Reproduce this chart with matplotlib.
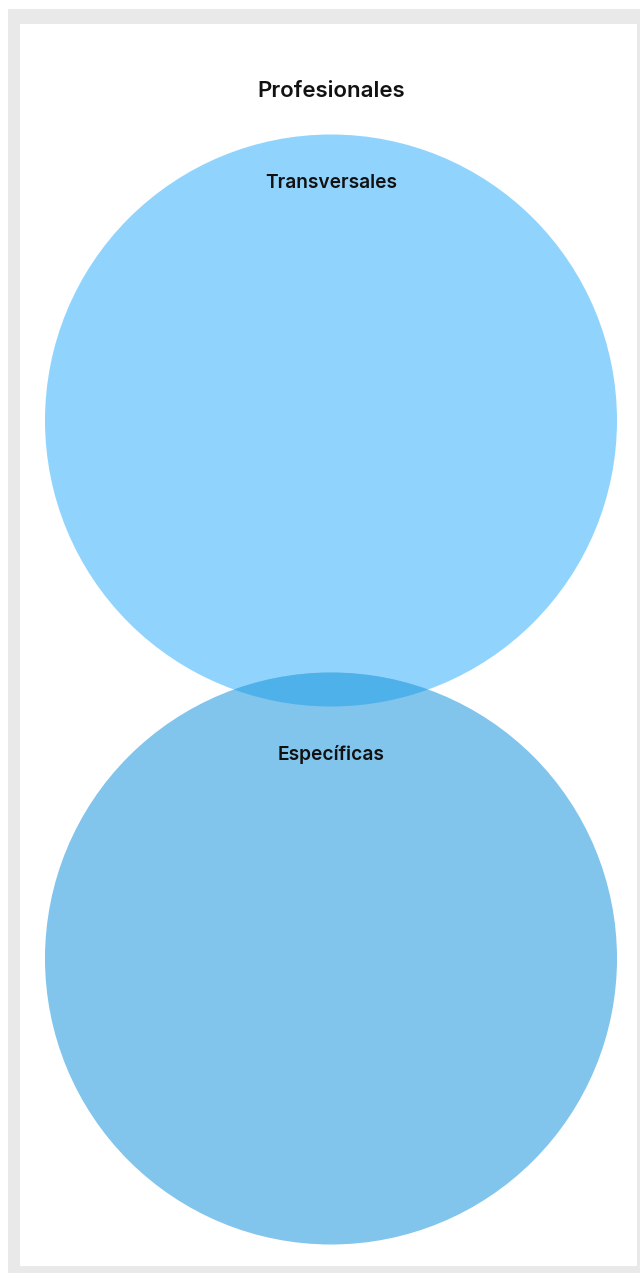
import numpy as np
import matplotlib.pyplot as plt
from matplotlib.patches import Circle, Rectangle

# venn data
title = "Profesionales"
set_names = ["Transversales", "Específicas"]
set_sizes = [58, 58]
overlap_size = 1
set_colors = ["#90d4fe", "#81c4ec"]
overlap_color = "#4fb1ea"


def lens_area(r1, r2, d):
    if d >= r1 + r2:
        return 0.0
    a1 = r1 ** 2 * np.arccos((d ** 2 + r1 ** 2 - r2 ** 2) / (2 * d * r1))
    a2 = r2 ** 2 * np.arccos((d ** 2 + r2 ** 2 - r1 ** 2) / (2 * d * r2))
    k = 0.5 * np.sqrt((-d + r1 + r2) * (d + r1 - r2) * (d - r1 + r2) * (d + r1 + r2))
    return a1 + a2 - k


def find_distance(r1, r2, target):
    lo, hi = abs(r1 - r2) + 1e-9, r1 + r2
    for _ in range(100):
        mid = (lo + hi) / 2
        if lens_area(r1, r2, mid) > target:
            lo = mid
        else:
            hi = mid
    return (lo + hi) / 2


radii = [np.sqrt(s / np.pi) for s in set_sizes]
dist = find_distance(radii[0], radii[1], overlap_size)

W, H = 640, 1273
fig = plt.figure(figsize=(W / 100, H / 100), dpi=100)
fig.patch.set_facecolor("white")

# frame
bg = fig.add_axes([0, 0, 1, 1])
bg.set_xlim(0, W)
bg.set_ylim(H, 0)
bg.axis("off")
bg.add_patch(Rectangle((8, 9), W - 8, H - 9, facecolor="#e9e9e9", edgecolor="none"))
bg.add_patch(Rectangle((20, 24), 617, 1242, facecolor="white", edgecolor="none"))
bg.text(331, 91, title, ha="center", va="center", fontsize=16,
        family="Inter", weight="semibold", color="#111111")

# venn axes, units = set size units
scale = 286 / radii[0]
cx, cy = 331, 420.5
ax = fig.add_axes([0, 0, 1, 1])
ax.set_xlim(-cx / scale, (W - cx) / scale)
ax.set_ylim(-(H - cy) / scale, cy / scale)
ax.axis("off")

centers = [(0, 0), (0, -dist)]
circles = []
for (x, y), r, c in zip(centers, radii, set_colors):
    circ = Circle((x, y), r, facecolor=c, edgecolor="none")
    ax.add_patch(circ)
    circles.append(circ)

lens = Circle(centers[1], radii[1], facecolor=overlap_color, edgecolor="none")
ax.add_patch(lens)
lens.set_clip_path(circles[0])

label_offsets = [49, 82]  # px below the top of each circle
for (x, y), r, name, off in zip(centers, radii, set_names, label_offsets):
    ax.text(x, y + r - off / scale, name, ha="center", va="center", fontsize=13.8,
            family="Inter", weight="semibold", color="#111111")

fig.savefig("out.png", dpi=100)
